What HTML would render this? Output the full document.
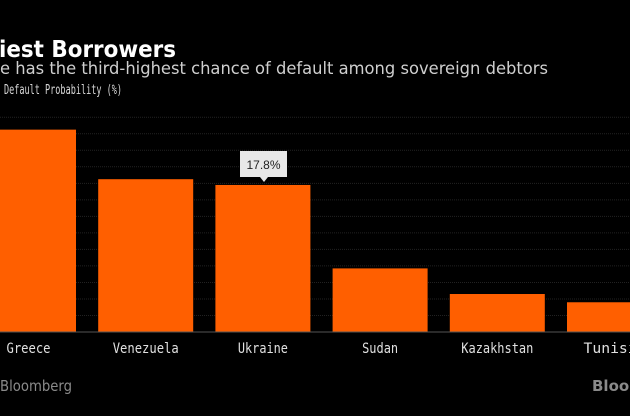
<!DOCTYPE html>
<html><head><meta charset="utf-8"><style>
html,body{margin:0;padding:0;background:#000;width:630px;height:416px;overflow:hidden}
svg{display:block}
</style></head><body>
<svg id="chart" width="630" height="416" viewBox="0 0 630 416">
  <rect width="630" height="416" fill="#000"/>
  <text x="-3" y="57" text-anchor="end" fill="#fff" font-family="DejaVu Sans, sans-serif" font-weight="bold" font-size="23">Risk</text>
  <text x="-1" y="57" fill="#fff" font-family="DejaVu Sans, sans-serif" font-weight="bold" font-size="23" textLength="177" lengthAdjust="spacingAndGlyphs">iest Borrowers</text>
  <text x="-3" y="74" text-anchor="end" fill="#cfcfcf" font-family="DejaVu Sans, sans-serif" font-size="17">Ukrain</text>
  <text x="0" y="74" fill="#cfcfcf" font-family="DejaVu Sans, sans-serif" font-size="17" textLength="548" lengthAdjust="spacingAndGlyphs">e has the third-highest chance of default among sovereign debtors</text>
  <text x="4" y="94" fill="#d8d8d8" font-family="DejaVu Sans Mono, monospace" font-size="13" textLength="118" lengthAdjust="spacingAndGlyphs">Default Probability (%)</text>
  <g id="grid"></g>
  <g id="bars"></g>
  <g id="xlabels"></g>
  <line x1="0" y1="332" x2="630" y2="332" stroke="#555" stroke-width="1"/>
  <g>
    <rect x="240" y="151" width="47" height="26" fill="#e8e8e8"/>
    <path d="M260 177 L264 182 L268 177 Z" fill="#e8e8e8"/>
    <text x="263.5" y="169" text-anchor="middle" fill="#222" font-family="Liberation Sans, sans-serif" font-size="12">17.8%</text>
  </g>
  <text x="0" y="391" fill="#8a8a8a" font-family="DejaVu Sans, sans-serif" font-size="15" textLength="72" lengthAdjust="spacingAndGlyphs">Bloomberg</text>
  <text x="592" y="391" fill="#8a8a8a" font-family="DejaVu Sans, sans-serif" font-size="15" font-weight="bold">Bloomberg</text>
</svg>
<script>
const categories = ["Greece","Venezuela","Ukraine","Sudan","Kazakhstan","Tunisia"];
const values = [24.5, 18.5, 17.8, 7.7, 4.6, 3.6];
const gridTicks = [2,4,6,8,10,12,14,16,18,20,22,24,26];
const labelWidths = [44, 66, 50, 36, 72, 62];

const baseY = 332, pxPer = 8.26;
const y = v => baseY - v * pxPer;
const step = 117.2, firstCenter = 28.5, barW = 95;
const xc = i => firstCenter + i * step;
const NS = "http://www.w3.org/2000/svg";
const grid = document.getElementById('grid');
gridTicks.forEach(t => {
  const l = document.createElementNS(NS, 'line');
  l.setAttribute('x1', 0); l.setAttribute('x2', 630);
  l.setAttribute('y1', y(t)); l.setAttribute('y2', y(t));
  l.setAttribute('stroke', '#222'); l.setAttribute('stroke-dasharray', '1 1');
  
  
  grid.appendChild(l);
});
const bars = document.getElementById('bars'), xl = document.getElementById('xlabels');
categories.forEach((c, i) => {
  const r = document.createElementNS(NS, 'rect');
  r.setAttribute('x', xc(i) - barW / 2); r.setAttribute('width', barW);
  r.setAttribute('y', y(values[i])); r.setAttribute('height', baseY - y(values[i]));
  r.setAttribute('fill', '#ff5f00');
  
  
  bars.appendChild(r);
  const t = document.createElementNS(NS, 'text');
  t.setAttribute('x', xc(i)); t.setAttribute('y', 353);
  t.setAttribute('text-anchor', 'middle'); t.setAttribute('fill', '#e0e0e0');
  t.setAttribute('font-family', 'DejaVu Sans Mono, monospace'); t.setAttribute('font-size', '14');
  t.setAttribute('textLength', labelWidths[i]); t.setAttribute('lengthAdjust', 'spacingAndGlyphs');
  t.textContent = c;
  
  
  xl.appendChild(t);
});
</script>
</body></html>
